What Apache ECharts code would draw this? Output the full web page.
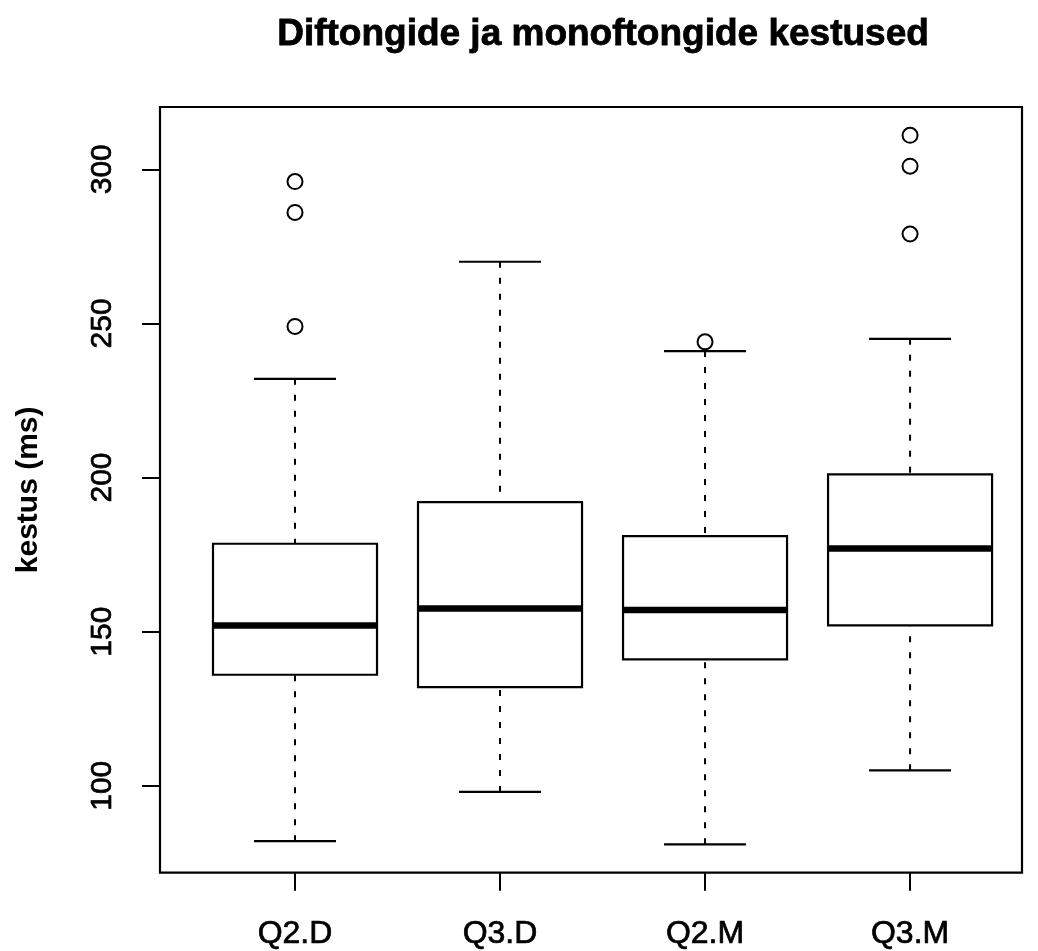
<!DOCTYPE html>
<html><head><meta charset="utf-8">
<script src="https://cdn.jsdelivr.net/npm/echarts@6/dist/echarts.min.js"></script>
<style>html,body{margin:0;padding:0;background:#fff}#c{width:1038px;height:951px}</style>
</head><body><div id="c"></div>
<script>
const titleText = 'Diftongide ja monoftongide kestused';
const yAxisTitle = 'kestus (ms)';
const categories = ['Q2.D', 'Q3.D', 'Q2.M', 'Q3.M'];
const whiskerLow = [82, 98, 81, 105];
const quartile1 = [136, 132, 141, 152];
const medians = [152, 157.5, 157, 177];
const quartile3 = [178.5, 192, 181, 201];
const whiskerHigh = [232, 270, 241, 245];
const outlierGroup = [1, 1, 1, 3, 4, 4, 4];
const outlierValue = [249, 286, 296, 244, 279, 301, 311];
const yTicks = [100, 150, 200, 250, 300];
const xTicks = [1, 2, 3, 4];

const FONT = "'Liberation Sans', Arial, Helvetica, sans-serif";

const boxData = categories.map((c, i) => [i + 1, whiskerLow[i], quartile1[i], medians[i], quartile3[i], whiskerHigh[i]]);
const outlierData = outlierGroup.map((g, i) => [g, outlierValue[i]]);

function renderBox(params, api) {
  const x = api.value(0);
  const lo = api.coord([x, api.value(1)]);
  const q1 = api.coord([x, api.value(2)]);
  const md = api.coord([x, api.value(3)]);
  const q3 = api.coord([x, api.value(4)]);
  const hi = api.coord([x, api.value(5)]);
  const halfBox = api.size([0.4, 0])[0];
  const halfCap = api.size([0.2, 0])[0];
  const cx = lo[0];
  const dashed = { stroke: '#000', lineWidth: 2, lineDash: [6, 10], lineCap: 'butt' };
  const solid = { stroke: '#000', lineWidth: 2.2 };
  return {
    type: 'group',
    children: [
      { type: 'line', shape: { x1: cx, y1: lo[1], x2: cx, y2: q1[1] }, style: dashed },
      { type: 'line', shape: { x1: cx, y1: hi[1], x2: cx, y2: q3[1] }, style: dashed },
      { type: 'line', shape: { x1: cx - halfCap, y1: lo[1], x2: cx + halfCap, y2: lo[1] }, style: solid },
      { type: 'line', shape: { x1: cx - halfCap, y1: hi[1], x2: cx + halfCap, y2: hi[1] }, style: solid },
      { type: 'rect', shape: { x: cx - halfBox, y: q3[1], width: 2 * halfBox, height: q1[1] - q3[1] }, style: { fill: '#fff', stroke: '#000', lineWidth: 2.2 } },
      { type: 'line', shape: { x1: cx - halfBox, y1: md[1], x2: cx + halfBox, y2: md[1] }, style: { stroke: '#000', lineWidth: 6.5, lineCap: 'butt' } }
    ]
  };
}

const chart = echarts.init(document.getElementById('c'), null, { renderer: 'canvas' });
chart.setOption({
  animation: false,
  backgroundColor: '#fff',
  graphic: [{
    type: 'text', x: 603, y: 35,
    style: { text: titleText, textAlign: 'center', textVerticalAlign: 'middle', font: 'bold 37px ' + FONT, fill: '#000', stroke: '#000', lineWidth: 0.8 }
  }],
  grid: { left: 160, top: 107, right: 16, bottom: 75, show: true, borderColor: '#000', borderWidth: 2.2, backgroundColor: 'transparent' },
  xAxis: {
    type: 'value', min: 0.3415, max: 4.546,
    splitLine: { show: false },
    axisLine: { show: false },
    axisTick: { show: true, length: 18, customValues: xTicks, lineStyle: { color: '#000', width: 2 } },
    axisLabel: { customValues: xTicks, margin: 46, color: '#000', fontSize: 32, fontFamily: FONT,
      textBorderColor: '#000', textBorderWidth: 0.7,
      formatter: v => categories[Math.round(v) - 1] || '' }
  },
  yAxis: {
    type: 'value', min: 71.8, max: 320.2,
    name: yAxisTitle, nameLocation: 'middle', nameRotate: 90, nameGap: 116,
    nameTextStyle: { color: '#000', fontSize: 30, fontWeight: 'bold', fontFamily: FONT },
    splitLine: { show: false },
    axisLine: { show: false },
    axisTick: { show: true, length: 18, customValues: yTicks, lineStyle: { color: '#000', width: 2 } },
    axisLabel: { customValues: yTicks, rotate: 90, margin: 42, color: '#000', fontSize: 30, fontFamily: FONT,
      textBorderColor: '#000', textBorderWidth: 0.7 }
  },
  series: [
    { type: 'custom', renderItem: renderBox, data: boxData, encode: { x: 0, y: [1, 2, 3, 4, 5] }, clip: false, z: 2 },
    { type: 'scatter', data: outlierData, symbol: 'circle', symbolSize: 15, z: 3,
      itemStyle: { color: 'rgba(0,0,0,0)', borderColor: '#000', borderWidth: 2, opacity: 1 } }
  ]
});
</script>
</body></html>
